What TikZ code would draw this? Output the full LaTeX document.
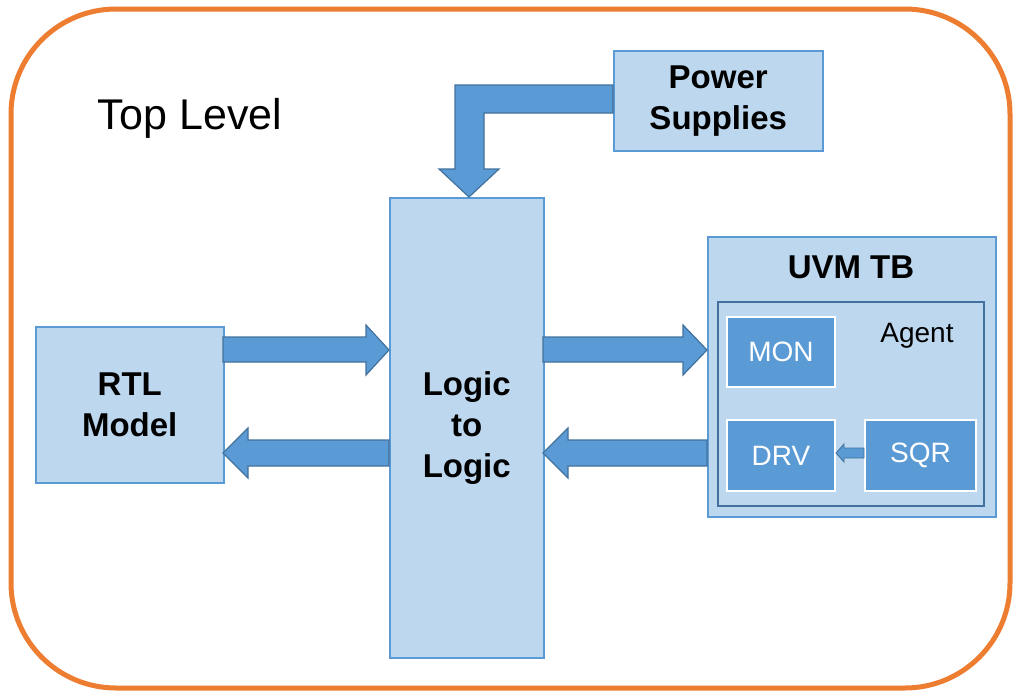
\documentclass[tikz,border=0pt]{standalone}
\usepackage{fontspec}
\setmainfont{Liberation Sans}
\definecolor{lightbox}{HTML}{BDD7EE}
\definecolor{midblue}{HTML}{5B9BD5}
\definecolor{darkblue}{HTML}{41719C}
\definecolor{frameorange}{HTML}{ED7D31}
\begin{document}
\begin{tikzpicture}[x=1pt,y=-1pt,
  box/.style={draw=midblue,fill=lightbox,line width=1.5pt,anchor=north west,inner sep=0pt,align=center,font=\fontsize{33}{41}\selectfont\bfseries},
  inbox/.style={draw=white,fill=midblue,line width=2pt,anchor=north west,inner sep=0pt,text=white,font=\fontsize{28}{32}\selectfont},
  fat/.style={fill=midblue,draw=darkblue,line width=1.2pt,line join=miter}]
\useasboundingbox (0,0) rectangle (1013,694);
\draw[frameorange,line width=5pt,rounded corners=105pt] (11,9) rectangle (1010,688);
\node[font=\fontsize{43}{50}\selectfont] (title) at (190,118) {Top Level};
% boxes
\node[box,minimum width=209pt,minimum height=100pt] (ps) at (613,50) {Power\\Supplies};
\node[box,minimum width=154pt,minimum height=460pt] (logic) at (389,197) {Logic\\to\\Logic};
\node[box,minimum width=188pt,minimum height=156pt] (rtl) at (35,326) {RTL\\Model};
\node[box,minimum width=288pt,minimum height=280pt] (uvm) at (707,236) {};
\node[font=\fontsize{33}{36}\selectfont\bfseries] (uvmt) at (851,267) {UVM TB};
\node[draw=darkblue,fill=lightbox,line width=1.5pt,anchor=north west,minimum width=266pt,minimum height=204pt] (agent) at (717,301) {};
\node[font=\fontsize{28}{32}\selectfont] (agentt) at (917,336) {Agent};
\node[inbox,minimum width=108pt,minimum height=70pt] (mon) at (726,316) {MON};
\node[inbox,minimum width=108pt,minimum height=71pt] (drv) at (726,419) {DRV};
\node[inbox,minimum width=111pt,minimum height=71pt] (sqr) at (864,419) {SQR};
% bent arrow from power supplies
\draw[fat] (ps.west |- 0,85) -- (455,85) -- (455,169) -- (439,169) -- (469,197) -- (499,169) -- (484,169) -- (484,113) -- (ps.west |- 0,113) -- cycle;
% RTL -> Logic
\draw[fat] (223,337) -- (366,337) -- (366,325) -- (389,350) -- (366,375) -- (366,362) -- (223,362) -- cycle;
% Logic -> RTL
\draw[fat] (389,440) -- (248,440) -- (248,428) -- (223,453) -- (248,478) -- (248,466) -- (389,466) -- cycle;
% Logic -> UVM
\draw[fat] (543,337) -- (683,337) -- (683,325) -- (707,350) -- (683,375) -- (683,362) -- (543,362) -- cycle;
% UVM -> Logic
\draw[fat] (707,440) -- (568,440) -- (568,428) -- (543,453) -- (568,478) -- (568,466) -- (707,466) -- cycle;
% SQR -> DRV
\draw[fat,line width=0.8pt] (sqr.west |- 0,448) -- (844,448) -- (844,444) -- (drv.east |- 0,453) -- (844,462) -- (844,458) -- (sqr.west |- 0,458) -- cycle;
\end{tikzpicture}
\end{document}
